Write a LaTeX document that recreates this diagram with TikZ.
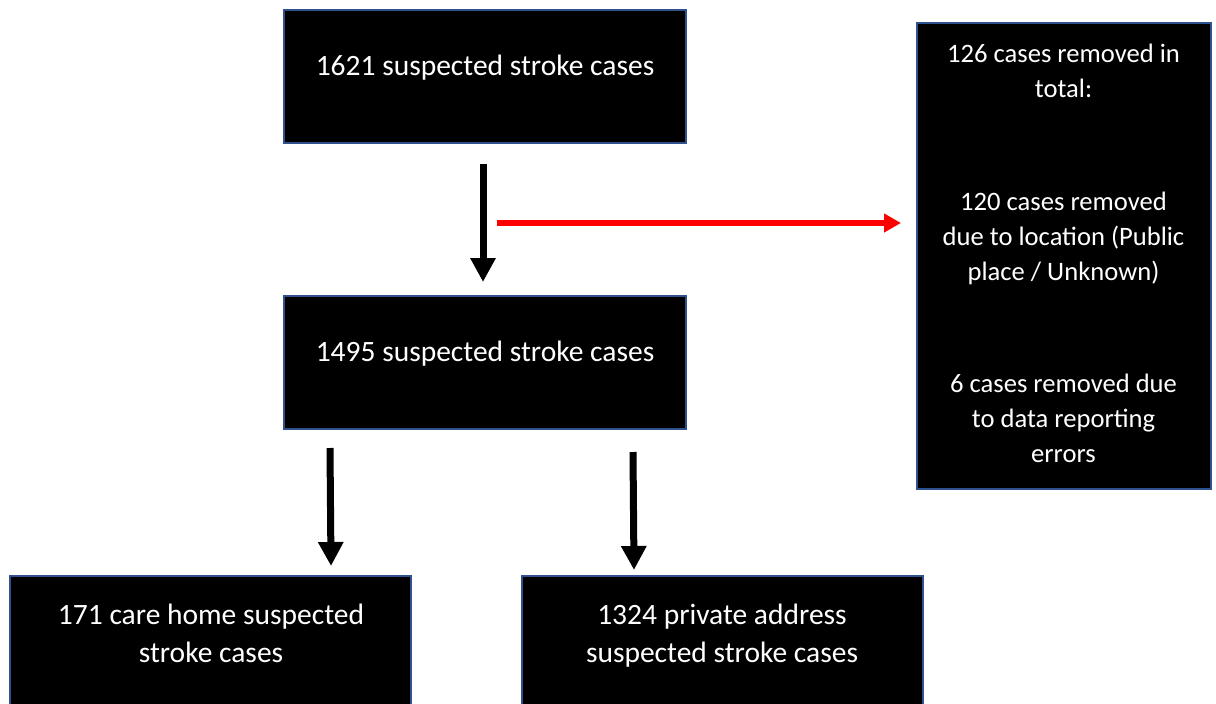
\documentclass[tikz,border=0pt]{standalone}
\usepackage{fontspec}
\setmainfont{Carlito}
\usetikzlibrary{arrows.meta,calc}
\definecolor{boxborder}{RGB}{47,82,143}
\definecolor{arrred}{RGB}{255,0,0}
\tikzset{
  blackbox/.style={draw=boxborder, line width=2pt, fill=black, inner sep=0pt},
  boxtext/.style={text=white, anchor=north, inner sep=0pt, align=center, font=\fontsize{29.5}{35}\selectfont},
  sidetext/.style={boxtext, font=\fontsize{26.6}{35}\selectfont},
  boxtextwide/.style={boxtext, font=\fontsize{29.5}{38}\selectfont},
  blkarrow/.style={draw=black, line width=7pt, -{Triangle[width=24pt,length=24pt]}},
  redarrow/.style={draw=arrred, line width=6pt, -{Triangle[width=18pt,length=17pt]}},
}
\begin{document}
\begin{tikzpicture}[x=1pt,y=-1pt]
\useasboundingbox[fill=white] (0,0) rectangle (1216,704);
% boxes
\node[blackbox, minimum width=402pt, minimum height=133pt] (b1) at (485,76.5) {};
\node[blackbox, minimum width=402pt, minimum height=133pt] (b2) at (485,362.5) {};
\node[blackbox, minimum width=294pt, minimum height=466pt] (rb) at (1064,256) {};
\node[blackbox, minimum width=401pt, minimum height=133pt] (b4) at (210.5,642.5) {};
\node[blackbox, minimum width=401pt, minimum height=133pt] (b5) at (722.5,642.5) {};
% texts
\node[boxtext] (t1) at (485,50.5) {\strut 1621 suspected stroke cases};
\node[boxtext] (t2) at (485,336.5) {\strut 1495 suspected stroke cases};
\node[sidetext] (r1) at (1063.5,37.5) {\strut 126 cases removed in\\total:};
\node[sidetext] (r2) at (1063.5,185.5) {\strut 120 cases removed\\due to location (Public\\place / Unknown)};
\node[sidetext] (r3) at (1063.5,367.5) {\strut 6 cases removed due\\to data reporting\\errors};
\node[boxtextwide] (t4) at (211,597.5) {\strut 171 care home suspected\\stroke cases};
\node[boxtextwide] (t5) at (722,597.5) {\strut 1324 private address\\suspected stroke cases};
% arrows
\draw[blkarrow] ([xshift=-2pt,yshift=-20pt]b1.south) -- ([xshift=-2pt,yshift=13pt]b2.north);
\coordinate (rs) at (497,223);
\draw[redarrow] (rs) -- ($(rs -| rb.west)+(-15,0)$);
\draw[blkarrow] ([xshift=47pt,yshift=-18pt]b2.south west) -- ([xshift=120.5pt,yshift=9pt]b4.north);
\draw[blkarrow] ([xshift=350pt,yshift=-22pt]b2.south west) -- ([xshift=-88.5pt,yshift=5pt]b5.north);
\end{tikzpicture}
\end{document}
